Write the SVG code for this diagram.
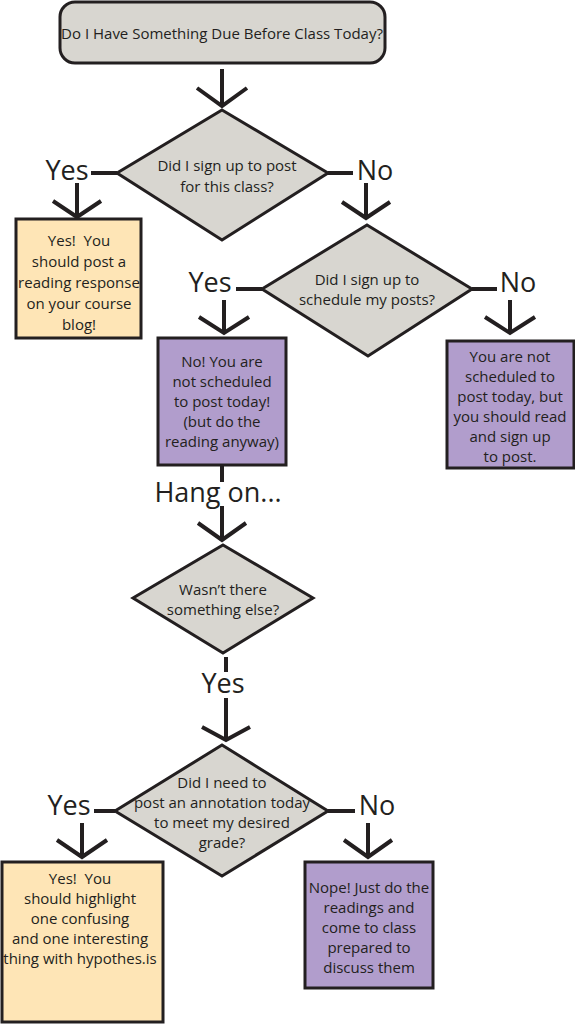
<svg xmlns="http://www.w3.org/2000/svg" width="575" height="1024" viewBox="0 0 575 1024">
<style>
.bg{fill:#ffffff}
.q{fill:#d8d6d0;stroke:#231f20;stroke-width:3;stroke-linejoin:miter}
.y{fill:#fee5b6;stroke:#231f20;stroke-width:3}
.p{fill:#b19dcc;stroke:#231f20;stroke-width:3}
.t{font-family:"Open Sans","Liberation Sans",sans-serif;font-size:15px;fill:#231f20;text-anchor:middle;white-space:pre}
.big{font-family:"Open Sans","Liberation Sans",sans-serif;font-size:27px;fill:#231f20;text-anchor:middle}
.ln{fill:none;stroke:#231f20;stroke-width:4}
.arr{fill:none;stroke:#231f20;stroke-width:4;stroke-linejoin:miter}
</style>
<rect class="bg" x="0" y="0" width="575" height="1024"/>

<g id="connectors">
  <path class="ln" d="M222,69 V106"/>
  <path class="arr" d="M197,88 L222,106 L247,88"/>
  <path class="ln" d="M91,173 H117"/>
  <path class="ln" d="M77,183 V217"/>
  <path class="arr" d="M53,201 L77,217 L101,201"/>
  <path class="ln" d="M328,173 H353"/>
  <path class="ln" d="M366,183 V218"/>
  <path class="arr" d="M342,202 L366,218 L390,202"/>
  <path class="ln" d="M236,289 H262"/>
  <path class="ln" d="M224,300 V333"/>
  <path class="arr" d="M199,317 L224,333 L249,317"/>
  <path class="ln" d="M472,289 H497"/>
  <path class="ln" d="M510,300 V333"/>
  <path class="arr" d="M485,317 L510,333 L535,317"/>
  <path class="ln" d="M222,465 V482"/>
  <path class="ln" d="M222,506 V540"/>
  <path class="arr" d="M198,523 L222,540 L246,523"/>
  <path class="ln" d="M226,657 V672"/>
  <path class="ln" d="M226,698 V740"/>
  <path class="arr" d="M202,727 L226,740 L250,727"/>
  <path class="ln" d="M94,811 H115"/>
  <path class="ln" d="M82,823 V857"/>
  <path class="arr" d="M57,840 L82,857 L107,840"/>
  <path class="ln" d="M328,811 H355"/>
  <path class="ln" d="M368,823 V857"/>
  <path class="arr" d="M344,840 L368,857 L392,840"/>
</g>

<g id="start">
  <rect class="q" x="60" y="2" width="325" height="61" rx="15" ry="15"/>
  <text class="t" x="222" y="39" font-size="14.8">Do I Have Something Due Before Class Today?</text>
</g>

<g id="q1">
  <polygon class="q" points="222,110 328,173 222,240 117,173"/>
  <text class="t" x="227" y="171">Did I sign up to post</text>
  <text class="t" x="227" y="192">for this class?</text>
  <text class="big" x="67" y="180">Yes</text>
  <text class="big" x="375" y="180">No</text>
</g>

<g id="yes1">
  <rect class="y" x="16" y="219" width="125" height="119"/>
  <text class="t" x="79" y="246">Yes!  You</text>
  <text class="t" x="79" y="267">should post a</text>
  <text class="t" x="79" y="288">reading response</text>
  <text class="t" x="79" y="309">on your course</text>
  <text class="t" x="79" y="330">blog!</text>
</g>

<g id="q2">
  <polygon class="q" points="367,225 472,289 368,356 262,289"/>
  <text class="t" x="367" y="285">Did I sign up to</text>
  <text class="t" x="367" y="305">schedule my posts?</text>
  <text class="big" x="210" y="292">Yes</text>
  <text class="big" x="518" y="292">No</text>
</g>

<g id="nosched">
  <rect class="p" x="158" y="338" width="128" height="127"/>
  <text class="t" x="222" y="367">No! You are</text>
  <text class="t" x="222" y="387">not scheduled</text>
  <text class="t" x="222" y="407">to post today!</text>
  <text class="t" x="222" y="427">(but do the</text>
  <text class="t" x="222" y="447">reading anyway)</text>
</g>

<g id="notsigned">
  <rect class="p" x="447" y="341" width="127" height="127"/>
  <text class="t" x="510" y="362">You are not</text>
  <text class="t" x="510" y="382">scheduled to</text>
  <text class="t" x="510" y="402">post today, but</text>
  <text class="t" x="510" y="422">you should read</text>
  <text class="t" x="510" y="442">and sign up</text>
  <text class="t" x="510" y="462">to post.</text>
</g>

<g id="hangon">
  <text class="big" x="218" y="502" font-size="28">Hang on...</text>
</g>

<g id="q3">
  <polygon class="q" points="223,545 313,598 223,653 133,598"/>
  <text class="t" x="223" y="595">Wasn’t there</text>
  <text class="t" x="223" y="615">something else?</text>
  <text class="big" x="223" y="693">Yes</text>
</g>

<g id="q4">
  <polygon class="q" points="222,745 328,811 222,876 115,811"/>
  <text class="t" x="222" y="788">Did I need to</text>
  <text class="t" x="222" y="808">post an annotation today</text>
  <text class="t" x="222" y="828">to meet my desired</text>
  <text class="t" x="222" y="848">grade?</text>
  <text class="big" x="69" y="815">Yes</text>
  <text class="big" x="377" y="815">No</text>
</g>

<g id="yes2">
  <rect class="y" x="2" y="862" width="161" height="160"/>
  <text class="t" x="80" y="884">Yes!  You</text>
  <text class="t" x="80" y="904">should highlight</text>
  <text class="t" x="80" y="924">one confusing</text>
  <text class="t" x="80" y="944">and one interesting</text>
  <text class="t" x="80" y="964">thing with hypothes.is</text>
</g>

<g id="no2">
  <rect class="p" x="305" y="862" width="128" height="126"/>
  <text class="t" x="369" y="893">Nope! Just do the</text>
  <text class="t" x="369" y="913">readings and</text>
  <text class="t" x="369" y="933">come to class</text>
  <text class="t" x="369" y="953">prepared to</text>
  <text class="t" x="369" y="973">discuss them</text>
</g>
</svg>
